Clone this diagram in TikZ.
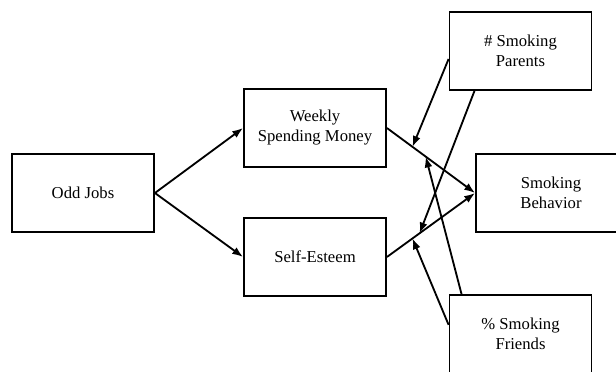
\documentclass[tikz,border=0pt]{standalone}
\usepackage{fontspec}
\setmainfont{Liberation Serif}
\usetikzlibrary{arrows.meta,positioning,calc}

\begin{document}
\begin{tikzpicture}[x=0.6pt, y=-0.6pt, font=\fontsize{10}{12}\selectfont,
  box/.style={draw, line width=1.1pt, minimum width=85.2pt, minimum height=46.8pt, align=center, inner sep=0pt},
  arr/.style={-{Latex[length=6.5pt,width=4.8pt]}, line width=1.1pt}]
\clip (0,0) rectangle (616,371);
\node[box] (odd) at (83,193) {Odd Jobs};
\node[box] (weekly) at (315,128) {Weekly\\Spending Money};
\node[box] (self) at (315,257) {Self-Esteem};
\node[box] (parents) at (520.5,51) {\# Smoking\\Parents};
\node[box, minimum width=90pt] (behav) at (551,193) {Smoking\\Behavior};
\node[box] (friends) at (520.5,334) {\% Smoking\\Friends};
% paths
\draw[arr] (odd.east) -- (weekly.west);
\draw[arr] (odd.east) -- (self.west);
\draw[arr] (weekly.east) -- coordinate[pos=0.29] (wA) coordinate[pos=0.44] (wB) (behav.west);
\draw[arr] (self.east) -- coordinate[pos=0.29] (sA) coordinate[pos=0.37] (sB) (behav.west);
% moderators
\coordinate (pL) at ($(parents.south west)!0.4!(parents.north west)$);
\coordinate (pB) at ($(parents.south west)!0.18!(parents.south east)$);
\coordinate (fT) at ($(friends.north west)!0.09!(friends.north east)$);
\coordinate (fL) at ($(friends.north west)!0.385!(friends.south west)$);
\draw[arr] (pL) -- (wA);
\draw[arr] (pB) -- (sB);
\draw[arr] (fT) -- (wB);
\draw[arr] (fL) -- (sA);
\end{tikzpicture}
\end{document}
